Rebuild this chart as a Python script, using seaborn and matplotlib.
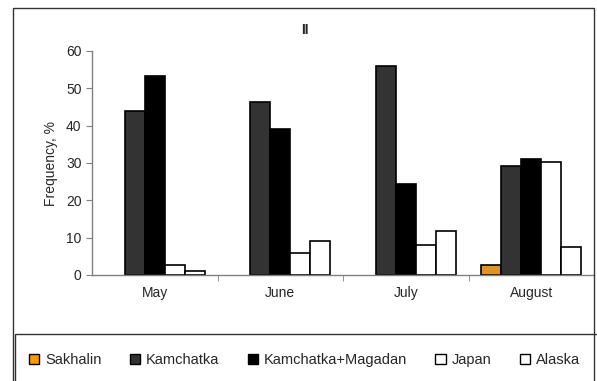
import pandas as pd
import seaborn as sns
import matplotlib.pyplot as plt
from matplotlib.patches import Rectangle, Patch

# Data
months = ["May", "June", "July", "August"]
regions = ["Sakhalin", "Kamchatka", "Kamchatka+Magadan", "Japan", "Alaska"]
sakhalin = [0, 0, 0, 2.7]
kamchatka = [43.9, 46.4, 56.0, 29.3]
kamchatka_magadan = [53.4, 39.0, 24.5, 31.1]
japan = [2.7, 6.0, 8.0, 30.4]
alaska = [1.2, 9.1, 11.8, 7.4]
colors = ["#FF9900", "#333333", "#000000", "#FFFFFF", "#FFFFFF"]

series = [sakhalin, kamchatka, kamchatka_magadan, japan, alaska]
rows = []
for reg, vals in zip(regions, series):
    for m, v in zip(months, vals):
        rows.append({"Month": m, "Region": reg, "Frequency": v})
df = pd.DataFrame(rows)

sns.set_style("white")
plt.rcParams["font.family"] = ["Liberation Sans", "DejaVu Sans"]

fig = plt.figure(figsize=(5.97, 3.81), dpi=100)
ax = fig.add_axes([92 / 597, 1 - 275 / 381, 502 / 597, 224 / 381])

sns.barplot(data=df, x="Month", y="Frequency", hue="Region", order=months,
            hue_order=regions, palette=dict(zip(regions, colors)),
            edgecolor="black", linewidth=1.2, width=0.8, errorbar=None,
            legend=False, ax=ax)

# empty bars should not leave an outline on the baseline
for p in ax.patches:
    if p.get_height() == 0:
        p.set_visible(False)

ax.set_xlim(-0.5, 3.5)
ax.set_ylim(0, 60)
ax.set_yticks(range(0, 61, 10))
ax.set_xlabel("")
ax.set_ylabel("Frequency, %", fontsize=10, labelpad=6)
ax.tick_params(axis="y", labelsize=10, length=4, color="#808080", direction="out", left=True)
ax.tick_params(axis="x", which="major", labelsize=10, length=0, pad=8)
ax.set_xticks([0.5, 1.5, 2.5], minor=True)
ax.tick_params(axis="x", which="minor", length=4, color="#808080", bottom=True)
for s in ["top", "right"]:
    ax.spines[s].set_visible(False)
for s in ["left", "bottom"]:
    ax.spines[s].set_color("#808080")
    ax.spines[s].set_linewidth(1.0)

fig.text(305 / 597, 1 - 30 / 381, "II", ha="center", va="center",
         fontsize=10, fontweight="bold")

# outer chart frame and legend box
fig.add_artist(Rectangle((13 / 597, -0.01), 581 / 597, 1 - 8 / 381 + 0.01,
                         transform=fig.transFigure, fill=False,
                         edgecolor="#333333", linewidth=1.0))
fig.add_artist(Rectangle((15 / 597, -0.01), 1.0, 1 - 334 / 381 + 0.01,
                         transform=fig.transFigure, fill=False,
                         edgecolor="#333333", linewidth=1.0))

handles = [Patch(facecolor=c, edgecolor="black", linewidth=1.0) for c in colors]
fig.legend(handles, regions, loc="center", bbox_to_anchor=(0.51, 1 - 360 / 381),
           ncol=5, frameon=False, fontsize=10.5, handlelength=0.7, handleheight=0.7,
           handletextpad=0.4, columnspacing=1.95)

fig.savefig("out.png", dpi=100)
